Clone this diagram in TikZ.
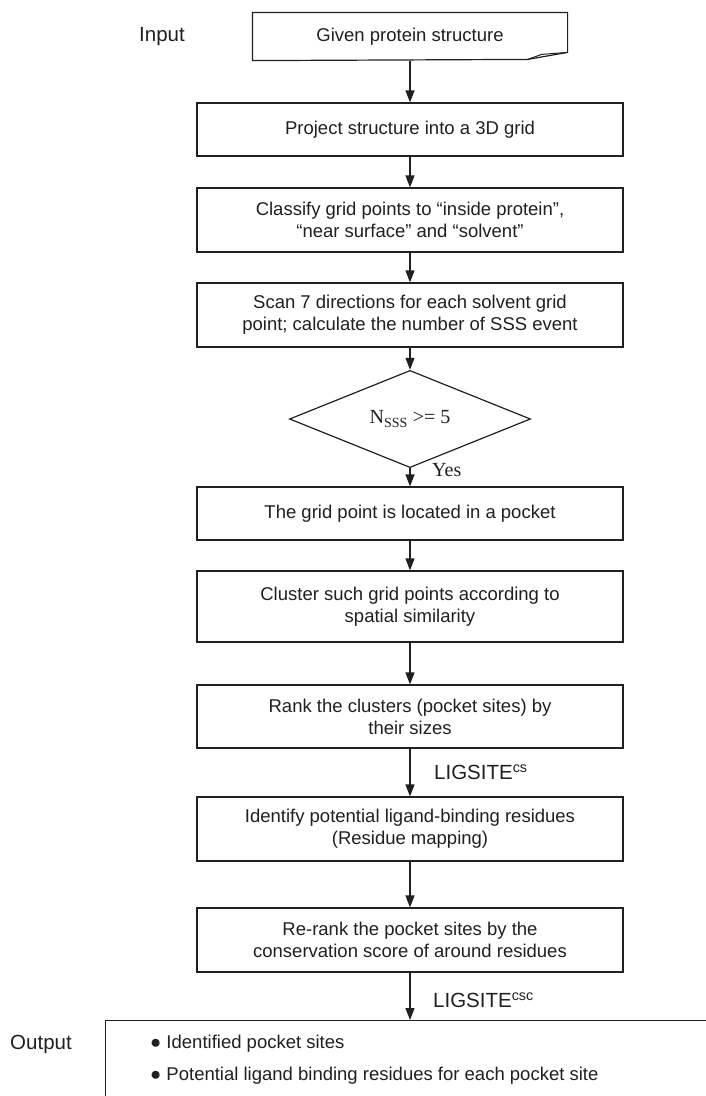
\documentclass[tikz,border=0pt]{standalone}
\usepackage{fontspec}
\setmainfont{Liberation Sans}
\newfontfamily\timesface{Liberation Serif}
\usetikzlibrary{shapes.geometric,arrows.meta}
\definecolor{flowcolor0000}{RGB}{35,31,32}
\definecolor{flowcolor0001}{RGB}{255,255,255}

\begin{document}
\begin{tikzpicture}[yscale=-1
,pstyle1/.style={draw=flowcolor0000,line width=1.2pt,minimum width=426pt,inner sep=0pt,align=center,text=flowcolor0000,font=\fontsize{18.5}{22}\selectfont}
,pstyle2/.style={draw=flowcolor0000,line width=1.2pt,-{Triangle[width=9pt,length=12pt]}}
,pstyle3/.style={text=flowcolor0000,inner sep=0pt,font=\fontsize{20.5}{24}\selectfont}
,pstyle4/.style={text=flowcolor0000,inner sep=0pt,font=\timesface\fontsize{20}{24}\selectfont}
]
\useasboundingbox[fill=flowcolor0001] (0pt,0pt) rectangle (706pt,1096pt);
% input document
\node[pstyle1,draw=none,minimum width=314pt,minimum height=47pt] (input) at (410pt,36.5pt) {Given protein structure};
\draw[color=flowcolor0000,line width=1.2pt] (input.north west) -- (input.north east) -- ++(0pt,40pt) -- ++(-40pt,7pt) coordinate (fold) -- (input.south west) -- cycle;
\draw[color=flowcolor0000,line width=1.0pt] (fold) -- ++(14pt,-5pt) -- ++(26pt,-2pt);
\node[pstyle3] (inlabel) at (162pt,37pt) {Input};
% steps
\node[pstyle1,minimum height=53pt] (project) at (410pt,129.5pt) {Project structure into a 3D grid};
\node[pstyle1,minimum height=64pt] (classify) at (410pt,220pt) {Classify grid points to “inside protein”,\\ “near surface” and “solvent”};
\node[pstyle1,minimum height=64pt] (scan) at (410pt,315pt) {Scan 7 directions for each solvent grid\\ point; calculate the number of SSS event};
\node[diamond,draw=flowcolor0000,line width=1.2pt,inner sep=0pt,minimum width=241pt,minimum height=80pt,pstyle4] (check) at (410pt,419pt) {N\textsubscript{SSS} >= 5};
\node[pstyle4,anchor=west] (yes) at (432pt,470pt) {Yes};
\node[pstyle1,minimum height=53pt] (pocket) at (410pt,513.5pt) {The grid point is located in a pocket};
\node[pstyle1,minimum height=71pt] (cluster) at (410pt,606.5pt) {Cluster such grid points according to\\ spatial similarity};
\node[pstyle1,minimum height=63pt] (rank) at (410pt,716.5pt) {Rank the clusters (pocket sites) by\\ their sizes};
\node[pstyle3,anchor=west] (cslabel) at (434pt,772pt) {LIGSITE\textsuperscript{cs}};
\node[pstyle1,minimum height=64pt] (identify) at (410pt,829pt) {Identify potential ligand-binding residues\\ (Residue mapping)};
\node[pstyle1,minimum height=64pt] (rerank) at (410pt,940pt) {Re-rank the pocket sites by the\\ conservation score of around residues};
\node[pstyle3,anchor=west] (csclabel) at (433pt,1000pt) {LIGSITE\textsuperscript{csc}};
% output
\node[draw=flowcolor0000,line width=1.2pt,anchor=north west,minimum width=660pt,minimum height=120pt] (output) at (105pt,1020pt) {};
\node[pstyle3] (outlabel) at (41pt,1044pt) {Output};
\node[pstyle3,anchor=west,font=\fontsize{18.5}{22}\selectfont] (item1) at (150pt,1044pt) {● Identified pocket sites};
\node[pstyle3,anchor=west,font=\fontsize{18.5}{22}\selectfont] (item2) at (150pt,1076pt) {● Potential ligand binding residues for each pocket site};
% connectors
\draw[pstyle2] (input.south) -- (project.north);
\draw[pstyle2] (project) -- (classify);
\draw[pstyle2] (classify) -- (scan);
\draw[pstyle2] (scan) -- (check.north);
\draw[pstyle2] (check.south) -- (pocket.north);
\draw[pstyle2] (pocket) -- (cluster);
\draw[pstyle2] (cluster) -- (rank);
\draw[pstyle2] (rank) -- (identify);
\draw[pstyle2] (identify) -- (rerank);
\draw[pstyle2] (rerank.south) -- (rerank.south |- output.north);
\end{tikzpicture}
\end{document}
